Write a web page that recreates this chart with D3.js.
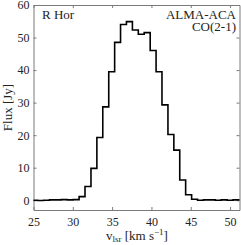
<!DOCTYPE html>
<html>
<head>
<meta charset="utf-8">
<script src="https://cdn.jsdelivr.net/npm/d3@7"></script>
<style>
  body { margin: 0; background: #fff; }
  text { font-family: "Liberation Serif", "DejaVu Serif", serif; fill: #222; }
</style>
</head>
<body>
<div id="plot"></div>
<script>
// Channel left edges (km/s) and flux per channel (Jy)
const velocity = [24.78, 25.53, 26.28, 27.04, 27.79, 28.54, 29.29, 30.05,
                  30.80, 31.55, 32.31, 33.06, 33.81, 34.57, 35.32, 36.07, 36.82, 37.58,
                  38.33, 39.08, 39.84, 40.59, 41.34, 42.10, 42.85, 43.60, 44.35, 45.11,
                  45.86, 46.61, 47.37, 48.12, 48.87, 49.62, 50.38, 51.13];
const flux = [0.0, -0.1, 0.0, 0.1, 0.1, 0.2, 0.1, 0.2,
              1.1, 4.2, 9.8, 19.3, 28.7, 39.5, 48.5, 54.0, 54.9, 52.3,
              51.0, 51.5, 46.0, 39.5, 29.3, 20.2, 15.4, 6.2, 1.7, 0.3,
              0.0, 0.1, 0.1, 0.0, 0.1, 0.0, 0.1, 0.1];
const xTicks = [25, 30, 35, 40, 45, 50];
const yTicks = [0, 10, 20, 30, 40, 50, 60];
const chanWidth = 0.753;

const W = 241, H = 245;
const box = {left: 33.5, right: 239.5, top: 5, bottom: 210};

const svg = d3.select("#plot").append("svg")
    .attr("width", W)
    .attr("height", H);

const x = d3.scaleLinear().domain([25, 51.2]).range([box.left, box.right]);
const y = d3.scaleLinear().domain([-3, 60]).range([box.bottom, box.top]);

svg.append("clipPath").attr("id", "clip")
  .append("rect")
    .attr("x", box.left).attr("y", box.top)
    .attr("width", box.right - box.left).attr("height", box.bottom - box.top);

// axes, ticks pointing inward (box style)
const axisColor = "#7a7a7a";
const tick = 3;

svg.append("g")
    .attr("transform", `translate(0,${box.bottom})`)
    .call(d3.axisBottom(x).tickValues(xTicks).tickSizeInner(-tick).tickSizeOuter(0).tickPadding(7.5))
    .call(g => g.select(".domain").attr("stroke", axisColor))
    .call(g => g.selectAll(".tick line").attr("stroke", axisColor))
    .call(g => g.selectAll("text").attr("font-size", 12).attr("font-family", "Liberation Serif").attr("fill", "#222"));

svg.append("g")
    .attr("transform", `translate(0,${box.top})`)
    .call(d3.axisTop(x).tickValues(xTicks).tickSizeInner(-tick).tickSizeOuter(0).tickFormat(""))
    .call(g => g.select(".domain").attr("stroke", axisColor))
    .call(g => g.selectAll(".tick line").attr("stroke", axisColor));

svg.append("g")
    .attr("transform", `translate(${box.left},0)`)
    .call(d3.axisLeft(y).tickValues(yTicks).tickSizeInner(-tick).tickSizeOuter(0).tickPadding(4))
    .call(g => g.select(".domain").attr("stroke", axisColor))
    .call(g => g.selectAll(".tick line").attr("stroke", axisColor))
    .call(g => g.selectAll("text").attr("font-size", 12).attr("font-family", "Liberation Serif").attr("fill", "#222"));

svg.append("g")
    .attr("transform", `translate(${box.right},0)`)
    .call(d3.axisRight(y).tickValues(yTicks).tickSizeInner(-tick).tickSizeOuter(0).tickFormat(""))
    .call(g => g.select(".domain").attr("stroke", axisColor))
    .call(g => g.selectAll(".tick line").attr("stroke", axisColor));

// step spectrum
const pts = velocity.map((v, i) => [v, flux[i]]);
pts.push([velocity[velocity.length - 1] + chanWidth, flux[flux.length - 1]]);

svg.append("path")
    .datum(pts)
    .attr("clip-path", "url(#clip)")
    .attr("fill", "none")
    .attr("stroke", "#000")
    .attr("stroke-width", 1.6)
    .attr("d", d3.line().x(d => x(d[0])).y(d => y(d[1])).curve(d3.curveStepAfter));

// annotations
svg.append("text")
    .attr("x", 42).attr("y", 19)
    .attr("font-size", 13)
    .text("R Hor");

svg.append("text")
    .attr("x", 236).attr("y", 18.5)
    .attr("text-anchor", "end")
    .attr("font-size", 13)
    .text("ALMA-ACA");

svg.append("text")
    .attr("x", 236).attr("y", 30.5)
    .attr("text-anchor", "end")
    .attr("font-size", 13)
    .text("CO(2-1)");

// axis labels
svg.append("text")
    .attr("transform", `translate(12,${(box.top + box.bottom) / 2}) rotate(-90)`)
    .attr("text-anchor", "middle")
    .attr("font-size", 13)
    .text("Flux [Jy]");

const xl = svg.append("text")
    .attr("x", 137).attr("y", 240)
    .attr("text-anchor", "middle")
    .attr("font-size", 13);
xl.append("tspan").text("v");
xl.append("tspan").attr("font-size", 9).attr("dy", 2).text("lsr");
xl.append("tspan").attr("dy", -2).text(" [km s");
xl.append("tspan").attr("font-size", 9).attr("dy", -5).text("\u22121");
xl.append("tspan").attr("dy", 5).text("]");
</script>
</body>
</html>
